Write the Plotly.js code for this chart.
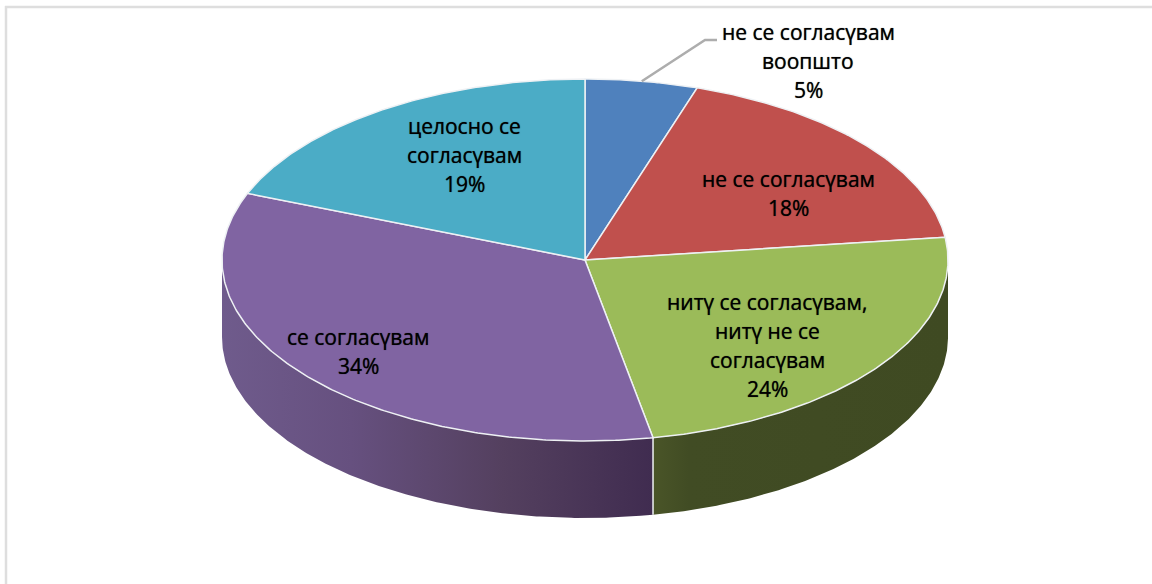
<!DOCTYPE html>
<html>
<head>
<meta charset="utf-8">
<script src="https://cdn.plot.ly/plotly-3.0.1.min.js"></script>
<style>html,body{margin:0;padding:0;background:#fff}#chart{width:1152px;height:584px}</style>
</head>
<body>
<div id="chart"></div>
<script>
// Survey answers, clockwise from twelve o'clock
const categories = [
  ["не се согласүвам", "воопшто"],
  ["не се согласүвам"],
  ["нитү се согласүвам,", "нитү не се", "согласүвам"],
  ["се согласүвам"],
  ["целосно се", "согласүвам"]
];
const percentages = [5, 18, 24, 34, 19];
const topColors = ["#4f81bd", "#c0504d", "#9bbb59", "#8064a2", "#4bacc6"];

// Wall shading for the slices that face the viewer, by slice index
const wallShades = {
  2: [[0, "#4a5528"], [0.12, "#414c24"], [1, "#3f4a22"]],
  3: [[0, "#6f5b8c"], [0.3, "#66507f"], [0.65, "#54405f"], [1, "#402c50"]]
};

// Text anchors: centre of each label and the height of its first line
const labelCentreX = [808, 788, 767, 358, 464];
const labelFirstY = [32, 179, 302, 337, 126];
const labelLineStep = 29;

// Disc shape on the page
const cx = 585, cy = 260, rx = 363, ry = 181, depth = 77;
const rimLine = "#eef1f4";

const rim = (deg, drop) => {
  const a = deg * Math.PI / 180;
  return [cx + rx * Math.sin(a), cy - ry * Math.cos(a) + (drop || 0)];
};

function arc(from, to, drop) {
  const xs = [], ys = [];
  const steps = Math.max(2, Math.ceil(Math.abs(to - from) * 2));
  for (let i = 0; i <= steps; i++) {
    const p = rim(from + (to - from) * i / steps, drop);
    xs.push(p[0]); ys.push(p[1]);
  }
  return [xs, ys];
}

const total = percentages.reduce((s, v) => s + v, 0);
const edges = [0];
percentages.forEach(v => edges.push(edges[edges.length - 1] + v / total * 360));

const traces = [];

// Side walls: only the front half of the disc shows
percentages.forEach((v, i) => {
  const from = Math.max(edges[i], 90), to = Math.min(edges[i + 1], 270);
  if (to <= from) return;
  const [tx, ty] = arc(from, to, 0);
  const [bx, by] = arc(to, from, depth);
  traces.push({
    type: "scatter", mode: "lines", hoverinfo: "skip",
    x: tx.concat(bx), y: ty.concat(by),
    fill: "toself",
    fillgradient: {type: "horizontal", colorscale: wallShades[i]},
    line: {width: 0, color: topColors[i]}
  });
});

// Seams on the wall where one slice meets the next
edges.slice(1, -1).forEach(deg => {
  if (deg <= 90 || deg >= 270) return;
  const a = rim(deg, 0), b = rim(deg, depth);
  traces.push({
    type: "scatter", mode: "lines", hoverinfo: "skip",
    x: [a[0], b[0]], y: [a[1], b[1]],
    line: {width: 1.5, color: rimLine}
  });
});

// Top face of every slice
percentages.forEach((v, i) => {
  const [ax, ay] = arc(edges[i], edges[i + 1], 0);
  traces.push({
    type: "scatter", mode: "lines", hoverinfo: "skip",
    x: [cx].concat(ax, [cx]), y: [cy].concat(ay, [cy]),
    fill: "toself", fillcolor: topColors[i],
    line: {width: 1.5, color: rimLine}
  });
});

// Leader from the small first slice out to its label
const mid = rim((edges[0] + edges[1]) / 2, 0);
traces.push({
  type: "scatter", mode: "lines", hoverinfo: "skip",
  x: [mid[0], 705, 717], y: [mid[1], 40, 40],
  line: {width: 2.5, color: "#adadad"}
});

// One annotation per text line, so the line spacing stays open
const annotations = [];
categories.forEach((lines, i) => {
  lines.concat([percentages[i] + "%"]).forEach((text, n) => {
    annotations.push({
      x: labelCentreX[i], y: labelFirstY[i] + n * labelLineStep,
      xref: "x", yref: "y", xanchor: "center", yanchor: "middle",
      showarrow: false, text: text,
      font: {family: "Open Sans", size: 21, color: "#000", shadow: "0 0 0.8px rgba(0,0,0,0.8)"}
    });
  });
});

const layout = {
  width: 1152, height: 584,
  margin: {l: 0, r: 0, t: 0, b: 0},
  paper_bgcolor: "#fff", plot_bgcolor: "#fff",
  showlegend: false,
  xaxis: {range: [0, 1152], visible: false, fixedrange: true},
  yaxis: {range: [584, 0], visible: false, fixedrange: true},
  annotations: annotations,
  shapes: [
    {type: "line", xref: "x", yref: "y", x0: 5, x1: 1152, y0: 7, y1: 7, line: {color: "#dedede", width: 2.5}},
    {type: "line", xref: "x", yref: "y", x0: 6, x1: 6, y0: 6, y1: 584, line: {color: "#dedede", width: 2.5}}
  ]
};

Plotly.newPlot("chart", traces, layout, {displayModeBar: false, staticPlot: true});
</script>
</body>
</html>
